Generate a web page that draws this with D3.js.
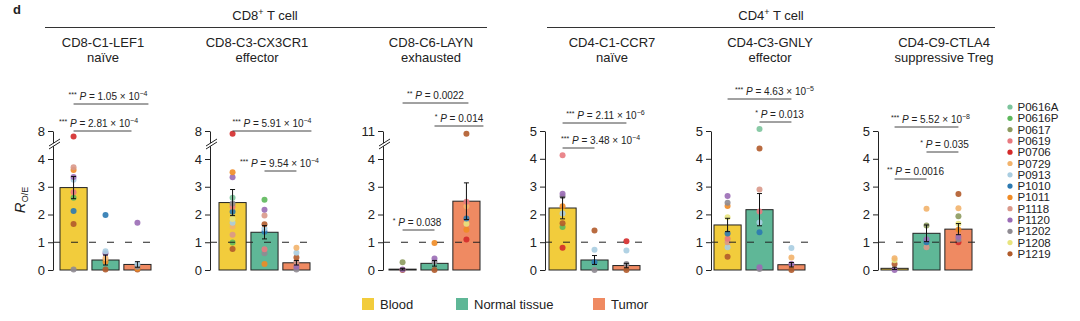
<!DOCTYPE html>
<html>
<head>
<meta charset="utf-8">
<script src="https://cdn.jsdelivr.net/npm/d3@7"></script>
<style>
  body { margin: 0; background: #fff; }
  text { font-family: "Liberation Sans", Arial, sans-serif; fill: #222; }
</style>
</head>
<body>
<div id="chart"></div>
<script>

// patients + colours
const patients = ["P0616A","P0616P","P0617","P0619","P0706","P0729","P0913",
                  "P1010","P1011","P1118","P1120","P1202","P1208","P1219"];
const patientColors = ["#7cc49c","#5db85b","#8c9a5e","#e87a80","#d42a2a","#f2b36c","#a9cde1",
                       "#2b79b1","#f08b25","#d9988a","#9a6cb5","#8f8b92","#e8e47e","#b15b2b"];

const tissues = ["Blood","Normal tissue","Tumor"];
const tissueColors = ["#f2cc3c","#5fb797","#ef8a62"];

// clusters
const lineages = ["CD8","CD4"];
const clusters = ["CD8-C1-LEF1","CD8-C3-CX3CR1","CD8-C6-LAYN","CD4-C1-CCR7","CD4-C3-GNLY","CD4-C9-CTLA4"];
const states = ["naïve","effector","exhausted","naïve","effector","suppressive Treg"];
const yTopTick = [8, 8, 11, 5, 5, 5];
const yBroken = [true, true, true, false, false, false];

// mean R_O/E and sem, [blood, normal, tumor]
const meanRoe = [
  [2.97, 0.36, 0.20],
  [2.43, 1.36, 0.26],
  [0.03, 0.24, 2.48],
  [2.23, 0.36, 0.16],
  [1.62, 2.17, 0.19],
  [0.06, 1.32, 1.47]
];
const semRoe = [
  [0.40, 0.18, 0.10],
  [0.47, 0.24, 0.08],
  [0.03, 0.10, 0.66],
  [0.39, 0.16, 0.08],
  [0.24, 0.58, 0.08],
  [0.04, 0.30, 0.20]
];

// per patient values
const dotsBlood = [
  [["P0706",7.8],["P1118",3.7],["P1011",3.6],["P1120",3.35],["P0913",3.25],["P0619",2.8],["P0616P",2.6],["P1010",2.13],["P1219",1.66],["P1202",0.02]],
  [["P0706",7.9],["P1011",3.52],["P1120",3.34],["P0616A",2.6],["P1202",2.4],["P0619",2.28],["P1010",2.1],["P1208",1.84],["P0913",1.7],["P0729",1.57],["P1118",1.27],["P0616P",0.99],["P1219",0.76]],
  [["P0617",0.28],["P1120",0.02],["P1219",0.0]],
  [["P0619",4.13],["P1120",2.74],["P1202",2.65],["P1011",2.29],["P0913",2.03],["P1219",1.68],["P0616P",1.55],["P0706",0.8]],
  [["P1120",2.66],["P1202",2.42],["P1011",2.3],["P1208",1.9],["P1010",1.31],["P0619",1.12],["P1118",1.0],["P0913",0.82],["P1219",0.48]],
  [["P0729",0.42],["P1208",0.35],["P1219",0.22],["P1120",0.0]]
];
const dotsNormal = [
  [["P1010",1.98],["P0913",0.68],["P1120",0.6],["P0729",0.42],["P1011",0.3],["P1219",0.02]],
  [["P0616P",2.53],["P1120",2.17],["P1118",1.96],["P1219",1.65],["P0913",1.5],["P1010",1.38],["P0619",0.75],["P1202",0.6],["P1011",0.22]],
  [["P1011",0.97],["P1120",0.41],["P1202",0.3],["P1219",0.0]],
  [["P1219",1.42],["P0913",0.73],["P1010",0.28],["P1202",0.0]],
  [["P0616A",5.07],["P1219",4.37],["P1118",2.9],["P0619",2.1],["P0913",1.71],["P1010",1.36],["P1120",0.1],["P1202",0.04]],
  [["P0729",2.2],["P0617",1.6],["P1120",1.1],["P1010",1.0],["P1118",0.82]]
];
const dotsTumor = [
  [["P1120",1.7],["P0913",0.22],["P1202",0.12],["P1011",0.05],["P1219",0.02]],
  [["P0729",0.8],["P0913",0.62],["P1219",0.45],["P1118",0.3],["P1120",0.12],["P1202",0.02]],
  [["P1219",10.9],["P0619",2.46],["P0729",2.3],["P1010",1.86],["P1208",1.67],["P1011",1.45],["P0706",1.1]],
  [["P0706",1.03],["P0913",0.7],["P1202",0.22],["P1219",0.0]],
  [["P0913",0.79],["P0729",0.45],["P1120",0.22],["P1219",0.0]],
  [["P1219",2.73],["P0729",2.22],["P0617",1.93],["P1208",1.66],["P1011",1.45],["P1120",1.2],["P1202",1.1],["P0706",1.0]]
];

// significance tests
const pPairs = [[[0,2],[0,1]], [[0,2],[1,2]], [[0,2],[1,2],[0,1]], [[0,2],[0,1]], [[0,2],[1,2]], [[0,2],[1,2],[0,1]]];
const pStars = [["***","***"], ["***","***"], ["**","*","*"], ["***","***"], ["***","*"], ["***","*","**"]];
const pValues = [["1.05","2.81"], ["5.91","9.54"], ["0.0022","0.014","0.038"], ["2.11","3.48"], ["4.63","0.013"], ["5.52","0.035","0.0016"]];
const pExponents = [["−4","−4"], ["−4","−4"], [null,null,null], ["−6","−4"], ["−5",null], ["−8",null,null]];

// layout
const W = 1080, H = 321;
const y0px = 270, y4px = 159, yTopPx = 131;
const axisX = [53, 210, 383, 545, 711, 878];
const barX = [60, 219, 389, 549, 714, 881];
const barsW = 91;
const titleX = [103, 257, 431, 612, 770, 944];
const headerX = [265, 771];
const headerSpan = [[45, 487], [547, 995]];
const legendX = [362, 456, 593];
// bracket line y, extra length past the right group, text shift
const bracketLayout = [
  [{y:104, ext:11, dx:-3}, {y:131, ext:26, dx:-4}],
  [{y:131, ext:15, dx:0}, {y:171, ext:0, dx:-1}],
  [{y:103, ext:2, dx:0}, {y:126, ext:17, dx:0}, {y:230, ext:0, dx:-1.5}],
  [{y:123, ext:0, dx:11}, {y:148, ext:0, dx:22}],
  [{y:99, ext:0, dx:15}, {y:122, ext:0, dx:4}],
  [{y:127, ext:0, dx:4}, {y:152, ext:0, dx:2}, {y:179, ext:0, dx:5}]
];

const svg = d3.select("#chart")
  .append("svg")
    .attr("width", W)
    .attr("height", H);

const color = d3.scaleOrdinal().domain(patients).range(patientColors);

// panel letter
svg.append("text")
  .attr("x", 13).attr("y", 14)
  .style("font-weight", "bold").style("font-size", "13px")
  .text("d");

// lineage headers
lineages.forEach((l, i) => {
  const t = svg.append("text")
    .attr("x", headerX[i]).attr("y", 20)
    .attr("text-anchor", "middle")
    .style("font-size", "13px");
  t.append("tspan").text(l);
  t.append("tspan").attr("dy", -5).style("font-size", "9px").text("+");
  t.append("tspan").attr("dy", 5).text(" T cell");
  svg.append("line")
    .attr("x1", headerSpan[i][0]).attr("x2", headerSpan[i][1])
    .attr("y1", 27.5).attr("y2", 27.5)
    .attr("stroke", "#333").attr("stroke-width", 1);
});

// y label
const yl = svg.append("text")
  .attr("transform", "translate(25,200) rotate(-90)")
  .attr("text-anchor", "middle")
  .style("font-size", "15px");
yl.append("tspan").style("font-style", "italic").text("R");
yl.append("tspan").attr("dy", 3).style("font-size", "9px").text("O/E");

function pLabel(g, x, y, stars, p, exp) {
  const t = g.append("text")
    .attr("x", x).attr("y", y)
    .attr("text-anchor", "middle")
    .style("font-size", "10px");
  t.append("tspan").attr("dy", -3).style("font-size", "7px").text(stars);
  t.append("tspan").attr("dy", 3).text(" ");
  t.append("tspan").style("font-style", "italic").text("P");
  t.append("tspan").text(" = " + p);
  if (exp) {
    t.append("tspan").text(" × 10");
    t.append("tspan").attr("dy", -4).style("font-size", "7px").text(exp);
  }
}

clusters.forEach((name, i) => {
  const g = svg.append("g");

  // titles
  g.append("text").attr("x", titleX[i]).attr("y", 47)
    .attr("text-anchor", "middle").style("font-size", "13px").text(name);
  g.append("text").attr("x", titleX[i]).attr("y", 62)
    .attr("text-anchor", "middle").style("font-size", "13px").text(states[i]);

  const top = yTopTick[i];
  const y = yBroken[i]
    ? d3.scaleLinear().domain([0, 4, top - 0.7, top]).range([y0px, y4px, 150, yTopPx])
    : d3.scaleLinear().domain([0, 5]).range([y0px, yTopPx]);

  const x = d3.scaleBand()
    .domain([0, 1, 2])
    .range([barX[i], barX[i] + barsW])
    .paddingInner(0.15);
  const cx = k => x(k) + x.bandwidth() / 2;

  // y axis
  const ax = g.append("g")
    .attr("transform", `translate(${axisX[i]},0)`)
    .call(d3.axisLeft(y)
      .tickValues(yBroken[i] ? [0, 1, 2, 3, 4, top] : [0, 1, 2, 3, 4, 5])
      .tickFormat(d3.format("d"))
      .tickSize(5).tickSizeOuter(0).tickPadding(3));
  ax.select(".domain").attr("stroke", "#222");
  ax.selectAll(".tick line").attr("stroke", "#222");
  ax.selectAll(".tick text")
    .style("font-size", "13px")
    .style("font-family", '"Liberation Sans", Arial, sans-serif')
    .attr("fill", "#222");

  // axis break
  if (yBroken[i]) {
    const by = (y(4) + y(top)) / 2;
    const a = axisX[i];
    g.append("path")
      .attr("d", `M${a - 4},${by + 4} L${a + 7},${by - 3} L${a + 7},${by - 6} L${a - 4},${by + 1} Z`)
      .attr("fill", "#fff");
    [0, 3].forEach(o => {
      g.append("line")
        .attr("x1", a - 4).attr("y1", by + 4 - o)
        .attr("x2", a + 7).attr("y2", by - 3 - o)
        .attr("stroke", "#222").attr("stroke-width", 1);
    });
  }

  // bars
  g.selectAll(".bar")
    .data(meanRoe[i])
    .join("rect")
      .attr("class", "bar")
      .attr("x", (d, k) => x(k))
      .attr("y", d => y(d))
      .attr("width", x.bandwidth())
      .attr("height", d => y(0) - y(d))
      .attr("fill", (d, k) => tissueColors[k])
      .attr("stroke", "#222")
      .attr("stroke-width", 1);

  // patient dots
  [dotsBlood[i], dotsNormal[i], dotsTumor[i]].forEach((pts, k) => {
    g.append("g")
      .selectAll("circle")
      .data(pts.slice().reverse())
      .join("circle")
        .attr("cx", cx(k))
        .attr("cy", d => y(d[1]))
        .attr("r", 3)
        .attr("fill", d => color(d[0]))
        .attr("opacity", 0.9);
  });

  // R_O/E = 1 reference
  g.append("line")
    .attr("x1", axisX[i]).attr("x2", barX[i] + barsW + 4)
    .attr("y1", y(1)).attr("y2", y(1))
    .attr("stroke", "#222").attr("stroke-width", 1)
    .attr("stroke-dasharray", "7,11");

  // error bars
  meanRoe[i].forEach((m, k) => {
    const s = semRoe[i][k];
    const lo = y(Math.max(0, m - s)), hi = y(m + s);
    g.append("line").attr("x1", cx(k)).attr("x2", cx(k)).attr("y1", lo).attr("y2", hi)
      .attr("stroke", "#111").attr("stroke-width", 1);
    [lo, hi].forEach(v => g.append("line")
      .attr("x1", cx(k) - 2.5).attr("x2", cx(k) + 2.5).attr("y1", v).attr("y2", v)
      .attr("stroke", "#111").attr("stroke-width", 1));
  });

  // brackets
  pPairs[i].forEach((pr, j) => {
    const L = bracketLayout[i][j];
    const x1 = cx(pr[0]), x2 = cx(pr[1]) + L.ext;
    g.append("line")
      .attr("x1", x1).attr("x2", x2).attr("y1", L.y).attr("y2", L.y)
      .attr("stroke", "#444").attr("stroke-width", 1);
    pLabel(g, (x1 + x2) / 2 + L.dx, L.y - 4.5, pStars[i][j], pValues[i][j], pExponents[i][j]);
  });
});

// tissue legend
tissues.forEach((t, k) => {
  svg.append("rect")
    .attr("x", legendX[k]).attr("y", 298)
    .attr("width", 12).attr("height", 12)
    .attr("fill", tissueColors[k]);
  svg.append("text")
    .attr("x", legendX[k] + 18).attr("y", 308.5)
    .style("font-size", "13px")
    .text(t);
});

// patient legend
const pl = svg.append("g").attr("transform", "translate(1010,107)");
patients.forEach((p, j) => {
  pl.append("circle").attr("cx", 0).attr("cy", j * 11.3).attr("r", 2.6).attr("fill", color(p));
  pl.append("text").attr("x", 7.5).attr("y", j * 11.3 + 4)
    .style("font-size", "11.5px").text(p);
});

</script>
</body>
</html>
